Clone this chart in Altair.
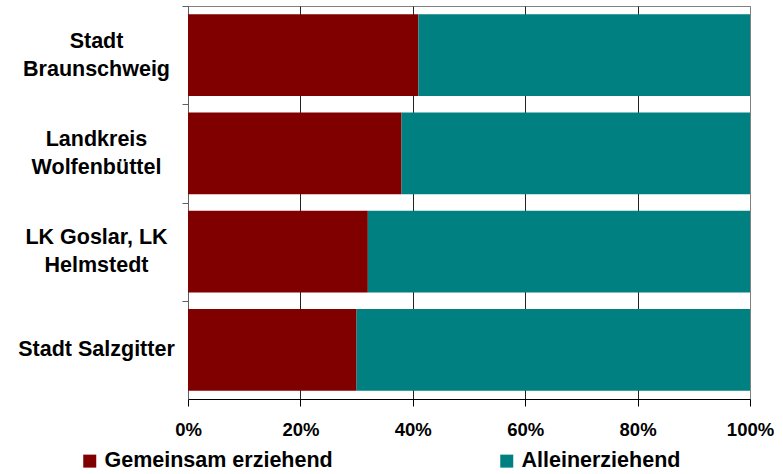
import altair as alt
import pandas as pd

regions = ["Stadt\nBraunschweig", "Landkreis\nWolfenbüttel", "LK Goslar, LK\nHelmstedt", "Stadt Salzgitter"]
series = ["Gemeinsam erziehend", "Alleinerziehend"]
gemeinsam = [41, 38, 32, 30]
allein = [59, 62, 68, 70]
colors = ["#800000", "#008080"]
x_ticks = [0, 0.2, 0.4, 0.6, 0.8, 1.0]

rows = []
for r, g, a in zip(regions, gemeinsam, allein):
    rows.append({"region": r, "serie": series[0], "value": g, "ord": 0})
    rows.append({"region": r, "serie": series[1], "value": a, "ord": 1})
df = pd.DataFrame(rows)

FONT = "Liberation Sans"
TICK_SHIFT = 49.1
LINE_H = 28

chart = alt.Chart(df).mark_bar().encode(
    y=alt.Y(
        "region:N",
        sort=regions,
        scale=alt.Scale(paddingInner=0.17, paddingOuter=0.085),
        axis=alt.Axis(
            title=None,
            labelExpr="split(datum.label, '\\n')",
            labelAlign="center",
            labelBaseline="middle",
            labelPadding=86,
            labelFontSize=21.5,
            labelFont=FONT,
            labelFontWeight="bold",
            labelColor="black",
            labelLineHeight=LINE_H,
            tickOffset=-TICK_SHIFT,
            labelOffset={
                "condition": {"test": "indexof(datum.value, '\\n') >= 0", "value": TICK_SHIFT - LINE_H / 2},
                "value": TICK_SHIFT,
            },
            tickSize=6,
            tickColor="#606060",
            domainColor="#606060",
            grid=False,
        ),
    ),
    x=alt.X(
        "value:Q",
        stack="normalize",
        scale=alt.Scale(domain=[0, 1], nice=False),
        axis=alt.Axis(
            title=None,
            format="%",
            values=x_ticks,
            grid=True,
            gridColor={"condition": {"test": "datum.value >= 1", "value": "#808080"}, "value": "#222222"},
            domainColor="black",
            tickColor="black",
            tickSize=7,
            labelFontSize=18.5,
            labelFont=FONT,
            labelFontWeight="bold",
            labelColor="black",
            labelPadding=14,
            labelFlush=False,
        ),
    ),
    color=alt.Color(
        "serie:N",
        scale=alt.Scale(domain=series, range=colors),
        legend=alt.Legend(
            title=None,
            orient="none",
            legendX=-109,
            legendY=444,
            direction="horizontal",
            symbolType="square",
            symbolSize=169,
            symbolStrokeWidth=0,
            symbolOpacity=1,
            labelFontSize=21.5,
            labelFont=FONT,
            labelFontWeight="bold",
            labelColor="black",
            labelOffset=4,
            labelLimit=0,
            columnPadding=163,
            padding=0,
        ),
    ),
    order=alt.Order("ord:Q"),
).properties(
    width=562,
    height=393,
    autosize="none",
    padding={"left": 188, "top": 6, "right": 33, "bottom": 75},
).configure_view(stroke="#808080", strokeWidth=1)

chart.save("out.html", embed_options={"renderer": "svg", "actions": False})
